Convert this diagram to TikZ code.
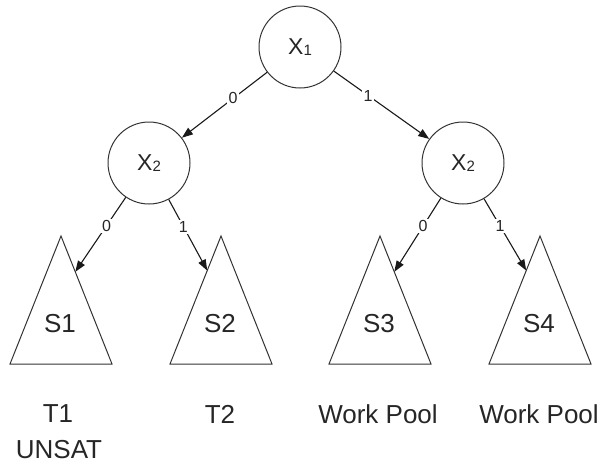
\documentclass[tikz,border=0pt]{standalone}
\usepackage{fontspec}
\setmainfont{Liberation Sans}
\usetikzlibrary{arrows.meta,calc}
\newcommand\varsub[1]{\raisebox{-1pt}{\fontsize{15}{15}\selectfont #1}}
\begin{document}
\begin{tikzpicture}[x=1pt,y=-1pt,
  var/.style={circle,draw=black!80,line width=1pt,minimum size=82pt,inner sep=0pt,font=\fontsize{23}{23}\selectfont,text=black!85},
  conn/.style={draw=black!90,line width=1.1pt,-{Triangle[length=11pt,width=8pt]}},
  lbl/.style={fill=white,inner sep=1.5pt,font=\fontsize{16}{16}\selectfont,text=black!85},
  tri/.style={draw=black!80,line width=1pt,line join=miter},
  tname/.style={font=\fontsize{26}{26}\selectfont,text=black!85},
  captext/.style={inner sep=0pt,font=\fontsize{26}{26}\selectfont,text=black!85}]
\useasboundingbox (0,0) rectangle (601,464);
% variable nodes
\node[var] (x1) at (300,47) {X\varsub{1}};
\node[var] (x2a) at (149,163) {X\varsub{2}};
\node[var] (x2b) at (463,163) {X\varsub{2}};
% subtrees
\foreach \n/\cx in {1/61,2/221,3/380,4/540}{
  \coordinate (s\n t) at (\cx,236);
  \coordinate (s\n l) at (\cx-51,364);
  \coordinate (s\n r) at (\cx+51,364);
  \draw[tri] (s\n t) -- (s\n r) -- (s\n l) -- cycle;
  \node[tname] (s\n) at (\cx-1,324) {S\n};
}
\coordinate (t1) at ($(s1t)!0.28!(s1r)$);
\coordinate (t2) at ($(s2t)!0.27!(s2l)$);
\coordinate (t3) at ($(s3t)!0.28!(s3r)$);
\coordinate (t4) at ($(s4t)!0.27!(s4l)$);
% connectors
\draw[conn] (x1) -- node[lbl,pos=0.40]{0} (x2a);
\draw[conn] (x1) -- node[lbl,pos=0.36]{1} (x2b);
\draw[conn] (x2a) -- node[lbl,pos=0.38]{0} (t1);
\draw[conn] (x2a) -- node[lbl,pos=0.38]{1} (t2);
\draw[conn] (x2b) -- node[lbl,pos=0.38]{0} (t3);
\draw[conn] (x2b) -- node[lbl,pos=0.38]{1} (t4);
% captions
\node[captext] (c1) at (58,414) {T1};
\node[captext] (c1b) at (59,450) {UNSAT};
\node[captext] (c2) at (220,414) {T2};
\node[captext] (c3) at (378,414) {Work Pool};
\node[captext] (c4) at (539,414) {Work Pool};
\end{tikzpicture}
\end{document}
